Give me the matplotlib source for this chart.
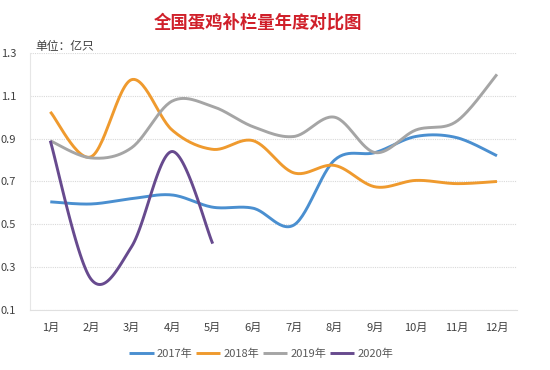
import numpy as np
import matplotlib.pyplot as plt

plt.rcParams['font.family'] = ['Noto Sans CJK SC', 'DejaVu Sans']

months = ["1月", "2月", "3月", "4月", "5月", "6月", "7月", "8月", "9月", "10月", "11月", "12月"]
y2017 = [0.605, 0.595, 0.62, 0.637, 0.58, 0.575, 0.497, 0.80, 0.835, 0.91, 0.905, 0.82]
y2018 = [1.025, 0.815, 1.175, 0.94, 0.85, 0.89, 0.74, 0.775, 0.675, 0.705, 0.69, 0.70]
y2019 = [0.89, 0.81, 0.857, 1.075, 1.05, 0.955, 0.91, 1.00, 0.835, 0.94, 0.98, 1.20]
y2020 = [0.89, 0.245, 0.395, 0.84, 0.41]

series = [("2017年", y2017, "#4a8fd0"), ("2018年", y2018, "#ef9a2e"),
          ("2019年", y2019, "#a5a5a5"), ("2020年", y2020, "#674a8e")]


def smooth(ys, n=30):
    # excel-style smoothed line (catmull-rom bezier)
    p = np.column_stack([np.arange(len(ys)), ys]).astype(float)
    out = [p[0]]
    for i in range(len(p) - 1):
        p0 = p[i - 1] if i > 0 else p[i]
        p3 = p[i + 2] if i + 2 < len(p) else p[i + 1]
        c1 = p[i] + (p[i + 1] - p0) / 6
        c2 = p[i + 1] - (p3 - p[i]) / 6
        t = np.linspace(0, 1, n)[1:, None]
        seg = ((1 - t) ** 3) * p[i] + 3 * ((1 - t) ** 2) * t * c1 + 3 * (1 - t) * t ** 2 * c2 + t ** 3 * p[i + 1]
        out.extend(seg)
    out = np.array(out)
    return out[:, 0], out[:, 1]


fig = plt.figure(figsize=(5.5, 3.7), dpi=100)
ax = fig.add_axes([0.0545, 0.162, 0.886, 0.695])

for name, ys, c in series:
    xs, yy = smooth(ys)
    ax.plot(xs, yy, color=c, lw=2.1, label=name, solid_capstyle='butt')

ax.set_xlim(-0.5, 11.5)
ax.set_ylim(0.1, 1.3)
ax.set_yticks([0.1, 0.3, 0.5, 0.7, 0.9, 1.1, 1.3])
ax.set_yticklabels(["0.1", "0.3", "0.5", "0.7", "0.9", "1.1", "1.3"])
ax.set_xticks(range(12))
ax.set_xticklabels(months)
ax.yaxis.grid(True, color="#d9d9d9", lw=0.8, ls=(0, (1, 1)))
ax.set_axisbelow(True)
ax.tick_params(axis='y', length=0, labelsize=8, colors="#404040", pad=10)
ax.tick_params(axis='x', length=0, labelsize=8, colors="#404040", pad=9)
for s in ["top", "right"]:
    ax.spines[s].set_visible(False)
ax.spines["left"].set_color("#e6e6e6")
ax.spines["bottom"].set_color("#e0e0e0")

fig.text(0.47, 0.94, "全国蛋鸡补栏量年度对比图", ha="center", va="center",
         fontsize=12.5, fontweight="bold", color="#d0202a")
fig.text(0.065, 0.875, "单位：亿只", ha="left", va="center", fontsize=8.5, color="#404040")

fig.legend(loc="center", bbox_to_anchor=(0.475, 0.045), ncol=4, frameon=False,
           fontsize=8, handlelength=2.2, handletextpad=0.3, columnspacing=0.3,
           labelcolor="#595959")

fig.savefig("out.png", dpi=100)
